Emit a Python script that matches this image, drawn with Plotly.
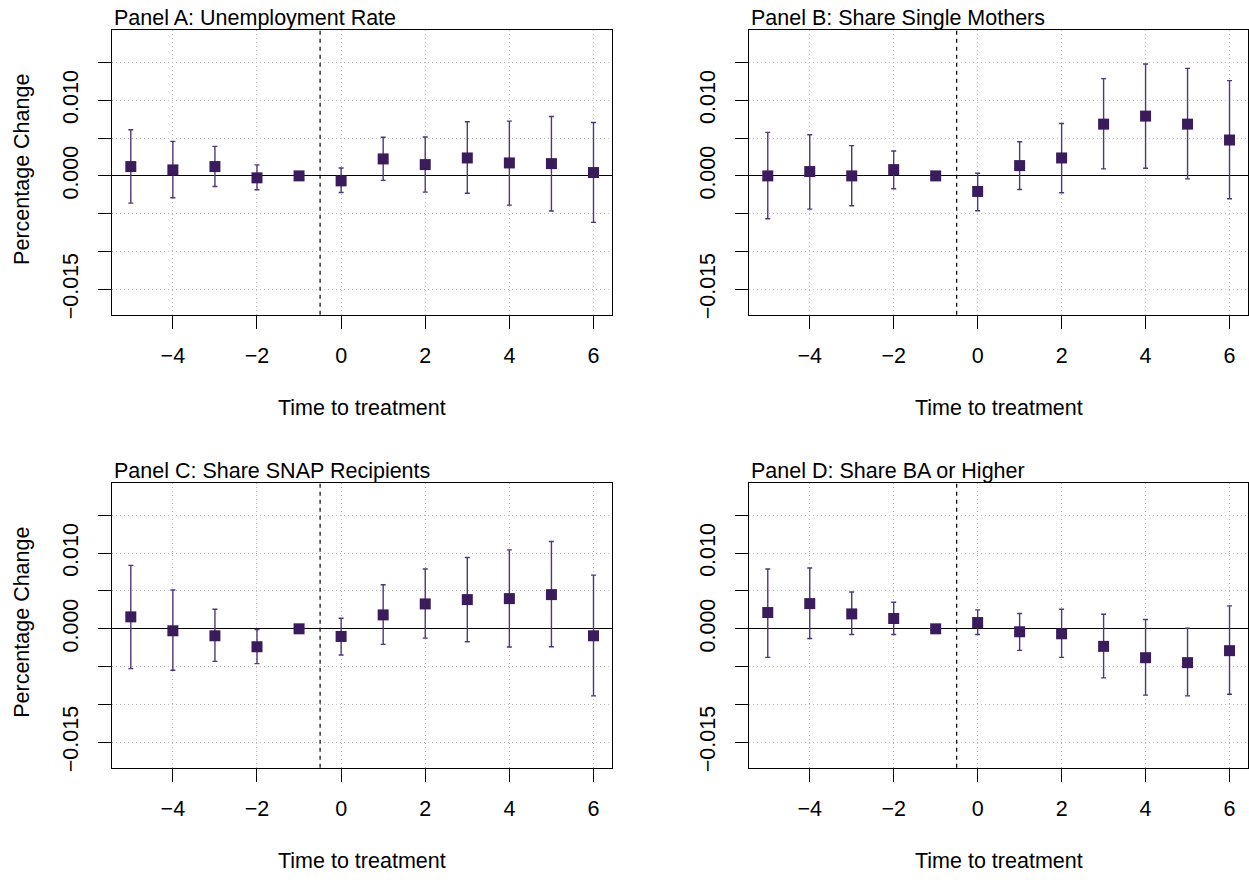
import plotly.graph_objects as go

# ---------------- data ----------------
time = [-5, -4, -3, -2, -1, 0, 1, 2, 3, 4, 5, 6]

titles = ["Panel A: Unemployment Rate", "Panel B: Share Single Mothers",
          "Panel C: Share SNAP Recipients", "Panel D: Share BA or Higher"]

a_est = [0.00123, 0.00079, 0.00123, -0.00026, 0.0, -0.00066, 0.00224, 0.00149, 0.00237, 0.00171, 0.00162, 0.00044]
a_lo = [-0.0036, -0.0029, -0.0014, -0.00184, 0.0, -0.0022, -0.0006, -0.00215, -0.0023, -0.00386, -0.00465, -0.00614]
a_hi = [0.0061, 0.00456, 0.0039, 0.00145, 0.0, 0.00105, 0.0051, 0.00513, 0.00715, 0.00724, 0.00785, 0.00706]

b_est = [0.0, 0.00057, 0.0, 0.00083, 0.0, -0.00206, 0.00136, 0.00237, 0.00684, 0.0079, 0.00684, 0.00474]
b_lo = [-0.00566, -0.00439, -0.00395, -0.00171, 0.0, -0.0046, -0.0018, -0.00224, 0.00092, 0.00101, -0.00039, -0.00303]
b_hi = [0.00575, 0.00544, 0.0040, 0.00329, 0.0, 0.00035, 0.00452, 0.00693, 0.01285, 0.01478, 0.01421, 0.01259]

c_est = [0.00158, -0.00026, -0.00092, -0.00237, 0.0, -0.00101, 0.00184, 0.00329, 0.00386, 0.00399, 0.00452, -0.00092]
c_lo = [-0.00526, -0.00548, -0.0043, -0.0046, 0.0, -0.00346, -0.00206, -0.00123, -0.00171, -0.00241, -0.00237, -0.00886]
c_hi = [0.00838, 0.00513, 0.00259, -0.00009, 0.0, 0.0014, 0.00583, 0.0079, 0.00943, 0.01044, 0.01154, 0.0071]

d_est = [0.00215, 0.00333, 0.00197, 0.00136, 0.0, 0.00083, -0.00039, -0.00066, -0.00232, -0.00382, -0.00447, -0.00289]
d_lo = [-0.00377, -0.00127, -0.00075, -0.00075, 0.0, -0.00075, -0.00285, -0.00377, -0.00649, -0.00877, -0.00886, -0.00864]
d_hi = [0.0079, 0.00803, 0.00487, 0.00351, 0.0, 0.0025, 0.00202, 0.00259, 0.00193, 0.00123, 0.00009, 0.00303]

x_ticks = [-4, -2, 0, 2, 4, 6]
x_ticklabels = ["\u22124", "\u22122", "0", "2", "4", "6"]
y_ticks = [-0.015, -0.010, -0.005, 0.0, 0.005, 0.010, 0.015]
y_ticklabels = ["\u22120.015", "", "", "0.000", "", "0.010", ""]
treat_line = -0.5

panels = [(a_est, a_lo, a_hi), (b_est, b_lo, b_hi), (c_est, c_lo, c_hi), (d_est, d_lo, d_hi)]

# ---------------- layout / style ----------------
W, H = 1249, 880
FONT = "Liberation Sans, Arial, Helvetica, sans-serif"
FS = 21.5
MARK = "#3A1C5C"
ERR = "#4E3878"
GRID = "#BDBDBD"

# plot boxes in pixels: (left, right, top, bottom)
boxes = [(112.3, 612.0, 30.0, 316.3), (749.3, 1248.0, 30.0, 316.3),
         (112.3, 612.0, 485.0, 771.3), (749.3, 1248.0, 485.0, 771.3)]

fig = go.Figure()
annotations = []
shapes = []

for i, ((est, lo, hi), (l, r, t, b)) in enumerate(zip(panels, boxes)):
    n = i + 1
    xa = "x" if n == 1 else f"x{n}"
    ya = "y" if n == 1 else f"y{n}"
    up = [h - e for h, e in zip(hi, est)]
    dn = [e - v for e, v in zip(est, lo)]
    fig.add_trace(go.Scatter(
        x=time, y=est, mode="markers", xaxis=xa, yaxis=ya, showlegend=False,
        marker=dict(symbol="square", size=11, color=MARK),
        error_y=dict(type="data", symmetric=False, array=up, arrayminus=dn,
                     color=ERR, thickness=1.4, width=2.5),
        cliponaxis=False,
    ))
    xdom = [l / W, r / W]
    ydom = [1 - b / H, 1 - t / H]
    xkey = "xaxis" if n == 1 else f"xaxis{n}"
    ykey = "yaxis" if n == 1 else f"yaxis{n}"
    fig.layout[xkey] = dict(
        domain=xdom, anchor=ya, range=[-5.44, 6.44],
        tickvals=x_ticks, ticktext=x_ticklabels,
        ticks="outside", ticklen=13, tickwidth=1, tickcolor="black",
        tickfont=dict(family=FONT, size=FS, color="black"),
        ticklabelstandoff=8,
        showline=True, mirror=True, linecolor="black", linewidth=1,
        showgrid=True, gridcolor=GRID, griddash="1px,3px", gridwidth=1,
        zeroline=False,
    )
    fig.layout[ykey] = dict(
        domain=ydom, anchor=xa, range=[-0.01837, 0.0193],
        tickvals=y_ticks, ticktext=y_ticklabels, tickangle=-90,
        ticks="outside", ticklen=13, tickwidth=1, tickcolor="black",
        tickfont=dict(family=FONT, size=FS, color="black"),
        ticklabelstandoff=12,
        showline=True, mirror=True, linecolor="black", linewidth=1,
        showgrid=True, gridcolor=GRID, griddash="1px,3px", gridwidth=1,
        zeroline=True, zerolinecolor="black", zerolinewidth=1,
    )
    shapes.append(dict(type="line", xref=xa, yref=f"{ya} domain",
                       x0=treat_line, x1=treat_line, y0=0, y1=1,
                       line=dict(color="black", width=1.2, dash="4px,4px")))
    # title
    annotations.append(dict(text=titles[i], xref="paper", yref="paper",
                            x=l / W, y=1 - (t - 12) / H, xanchor="left", yanchor="middle",
                            showarrow=False, font=dict(family=FONT, size=FS, color="black")))
    # x-axis title
    annotations.append(dict(text="Time to treatment", xref="paper", yref="paper",
                            x=(l + r) / 2 / W, y=1 - (b + 94) / H, xanchor="center", yanchor="middle",
                            showarrow=False, font=dict(family=FONT, size=FS, color="black")))
    if n in (1, 3):
        annotations.append(dict(text="Percentage Change", xref="paper", yref="paper",
                                x=22.5 / W, y=1 - ((t + b) / 2 - 3) / H, xanchor="center", yanchor="middle",
                                textangle=-90, showarrow=False,
                                font=dict(family=FONT, size=FS, color="black")))

fig.update_layout(
    width=W, height=H, margin=dict(l=0, r=0, t=0, b=0),
    paper_bgcolor="white", plot_bgcolor="white",
    annotations=annotations, shapes=shapes, showlegend=False,
)

fig.write_html("out.html")
